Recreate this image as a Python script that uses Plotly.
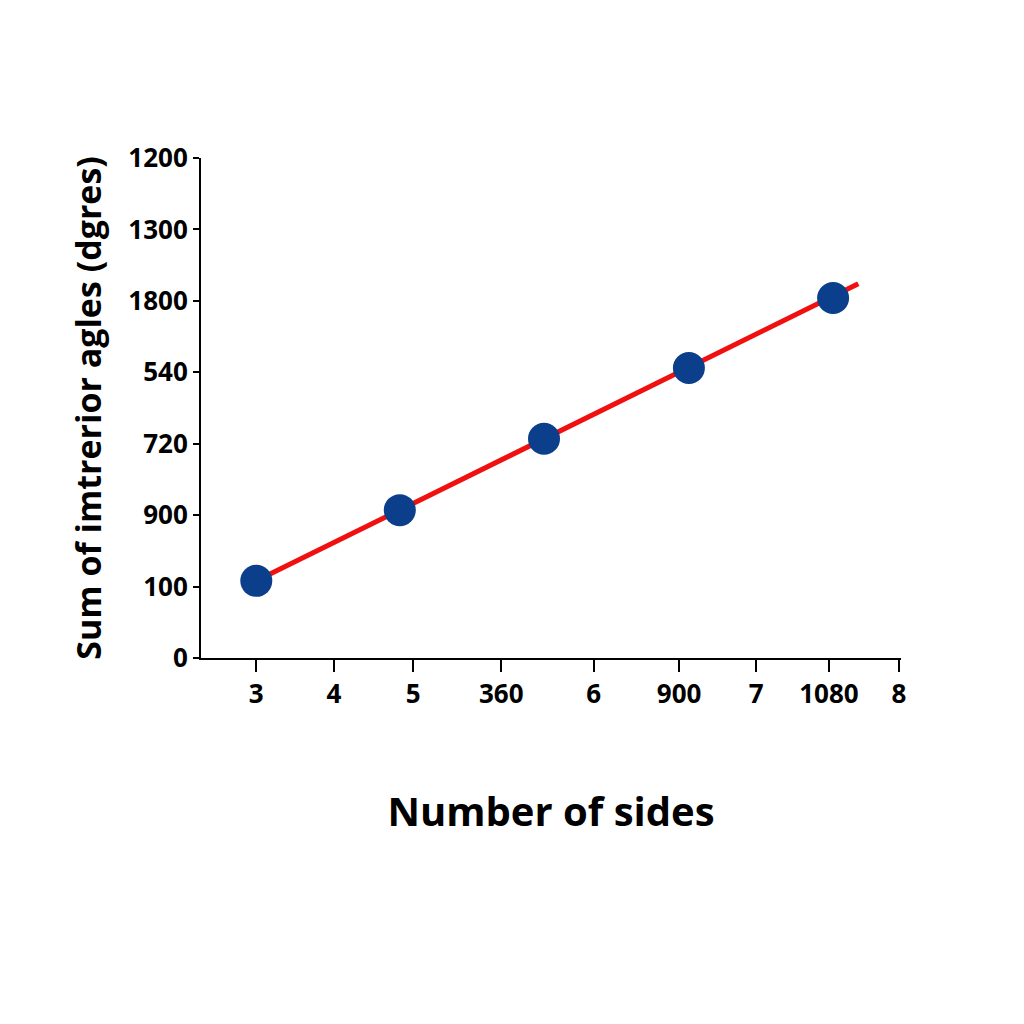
import plotly.graph_objects as go

# tick positions (axis units) and their printed labels
x_tick_pos = [0.79, 1.9, 3.03, 4.29, 5.61, 6.83, 7.93, 8.97, 9.97]
x_tick_text = ["3", "4", "5", "360", "6", "900", "7", "1080", "8"]
y_tick_pos = [0, 1, 2, 3, 4, 5, 6, 7]
y_tick_text = ["0", "100", "900", "720", "540", "1800", "1300", "1200"]

# data points
point_x = [0.79, 2.84, 4.90, 6.97, 9.03]
point_y = [1.08, 2.07, 3.07, 4.06, 5.04]

# trend line end points
line_x = [0.79, 9.39]
line_y = [1.08, 5.24]

fig = go.Figure()
fig.add_trace(go.Scatter(x=line_x, y=line_y, mode="lines",
                         line=dict(color="#f01010", width=5), hoverinfo="skip"))
fig.add_trace(go.Scatter(x=point_x, y=point_y, mode="markers",
                         marker=dict(color="#0b3f8c", size=32)))

font_bold = "Open Sans"
fig.update_layout(
    width=1024, height=1024, showlegend=False,
    plot_bgcolor="white", paper_bgcolor="white",
    margin=dict(l=193, r=131, t=150, b=374),
    font=dict(family=font_bold, color="black"),
)
fig.update_xaxes(
    range=[0, 10], tickvals=x_tick_pos, ticktext=x_tick_text,
    showgrid=False, zeroline=False, showline=True, linecolor="black", linewidth=2,
    ticks="outside", ticklen=12, tickwidth=2, tickcolor="black",
    tickfont=dict(size=26, family=font_bold, weight="bold"),
    title=dict(text="<b>Number of sides</b>", font=dict(size=40), standoff=88),
)
fig.update_yaxes(
    range=[0, 7], tickvals=y_tick_pos, ticktext=y_tick_text,
    showgrid=False, zeroline=False, showline=True, linecolor="black", linewidth=2,
    ticks="outside", ticklen=6, tickwidth=2, tickcolor="black",
    tickfont=dict(size=26, family=font_bold, weight="bold"),
    title=dict(text="<b>Sum of imtrerior agles (dgres)</b>", font=dict(size=34), standoff=16),
)

fig.write_html("out.html")
